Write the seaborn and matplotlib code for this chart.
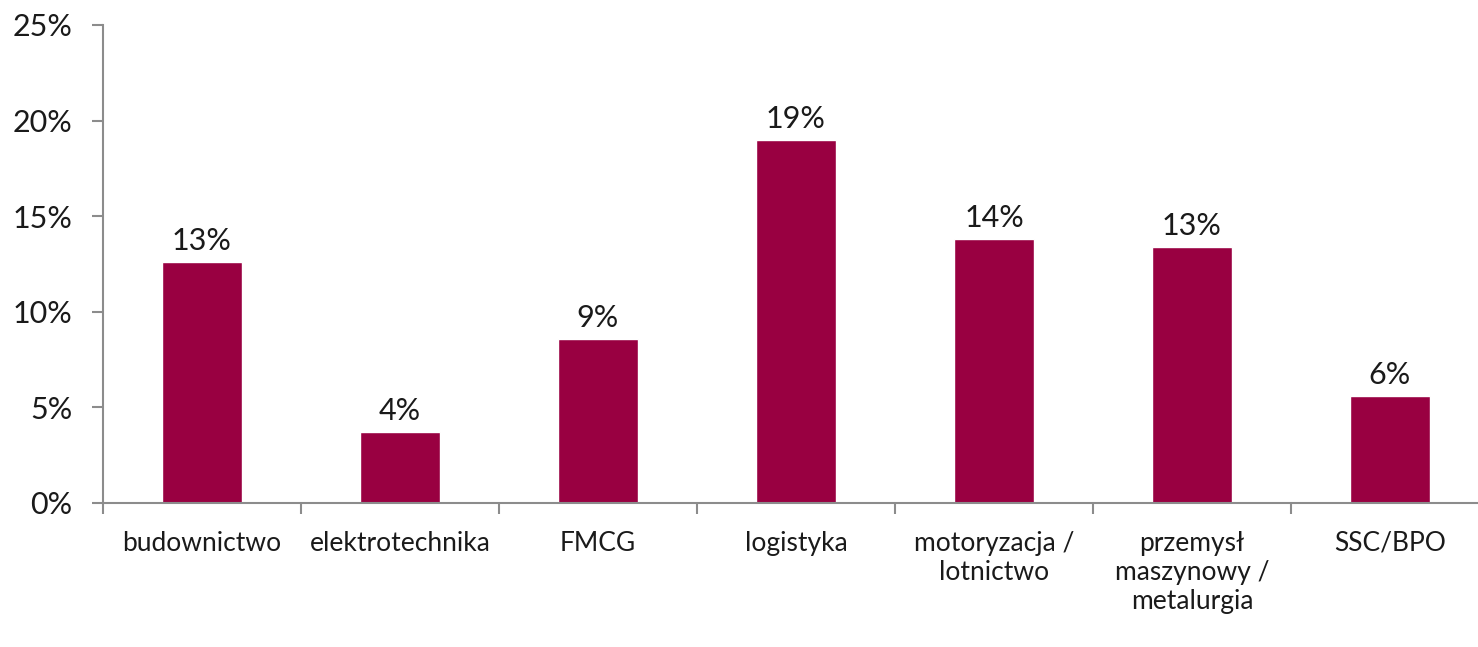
import matplotlib
matplotlib.use("Agg")
import matplotlib.pyplot as plt
import seaborn as sns
import pandas as pd
from matplotlib.ticker import FixedLocator

# Data
categories = ["budownictwo", "elektrotechnika", "FMCG", "logistyka",
              "motoryzacja /\nlotnictwo", "przemysł\nmaszynowy /\nmetalurgia", "SSC/BPO"]
shares = [12.6, 3.7, 8.6, 19.0, 13.8, 13.4, 5.6]
y_ticks = [0, 5, 10, 15, 20, 25]

df = pd.DataFrame({"branza": categories, "udzial": shares})

sns.set_style("white")
plt.rcParams["font.family"] = ["Lato", "DejaVu Sans"]

fig = plt.figure(figsize=(14.78, 6.47), dpi=100)
ax = fig.add_axes([103 / 1478, 1 - 503 / 647, 1386 / 1478, 478 / 647])

sns.barplot(data=df, x="branza", y="udzial", color="#990041", width=0.4,
            saturation=1, ax=ax)

# value labels above bars
for i, v in enumerate(shares):
    ax.annotate(f"{round(v):.0f}%", (i, v), xytext=(0, 5), textcoords="offset points",
                ha="center", va="bottom", fontsize=22, color="#1a1a1a")

ax.set_xlim(-0.5, len(categories) - 0.5)
ax.set_ylim(0, 25)
ax.set_yticks(y_ticks)
ax.set_yticklabels([f"{t}%" for t in y_ticks])
ax.set_xlabel("")
ax.set_ylabel("")

grey = "#8c8c8c"
for s in ["top", "right"]:
    ax.spines[s].set_visible(False)
for s in ["left", "bottom"]:
    ax.spines[s].set_color(grey)
    ax.spines[s].set_linewidth(1.5)

ax.tick_params(axis="y", which="major", left=True, length=8, width=1.5, color=grey,
               labelsize=22, labelcolor="#1a1a1a", pad=14)
ax.tick_params(axis="x", which="major", length=0, labelsize=19, labelcolor="#1a1a1a", pad=20)
ax.xaxis.set_minor_locator(FixedLocator([i - 0.5 for i in range(len(categories) + 1)]))
ax.tick_params(axis="x", which="minor", bottom=True, length=8, width=1.5, color=grey)

fig.savefig("out.png", dpi=100, facecolor="white")
